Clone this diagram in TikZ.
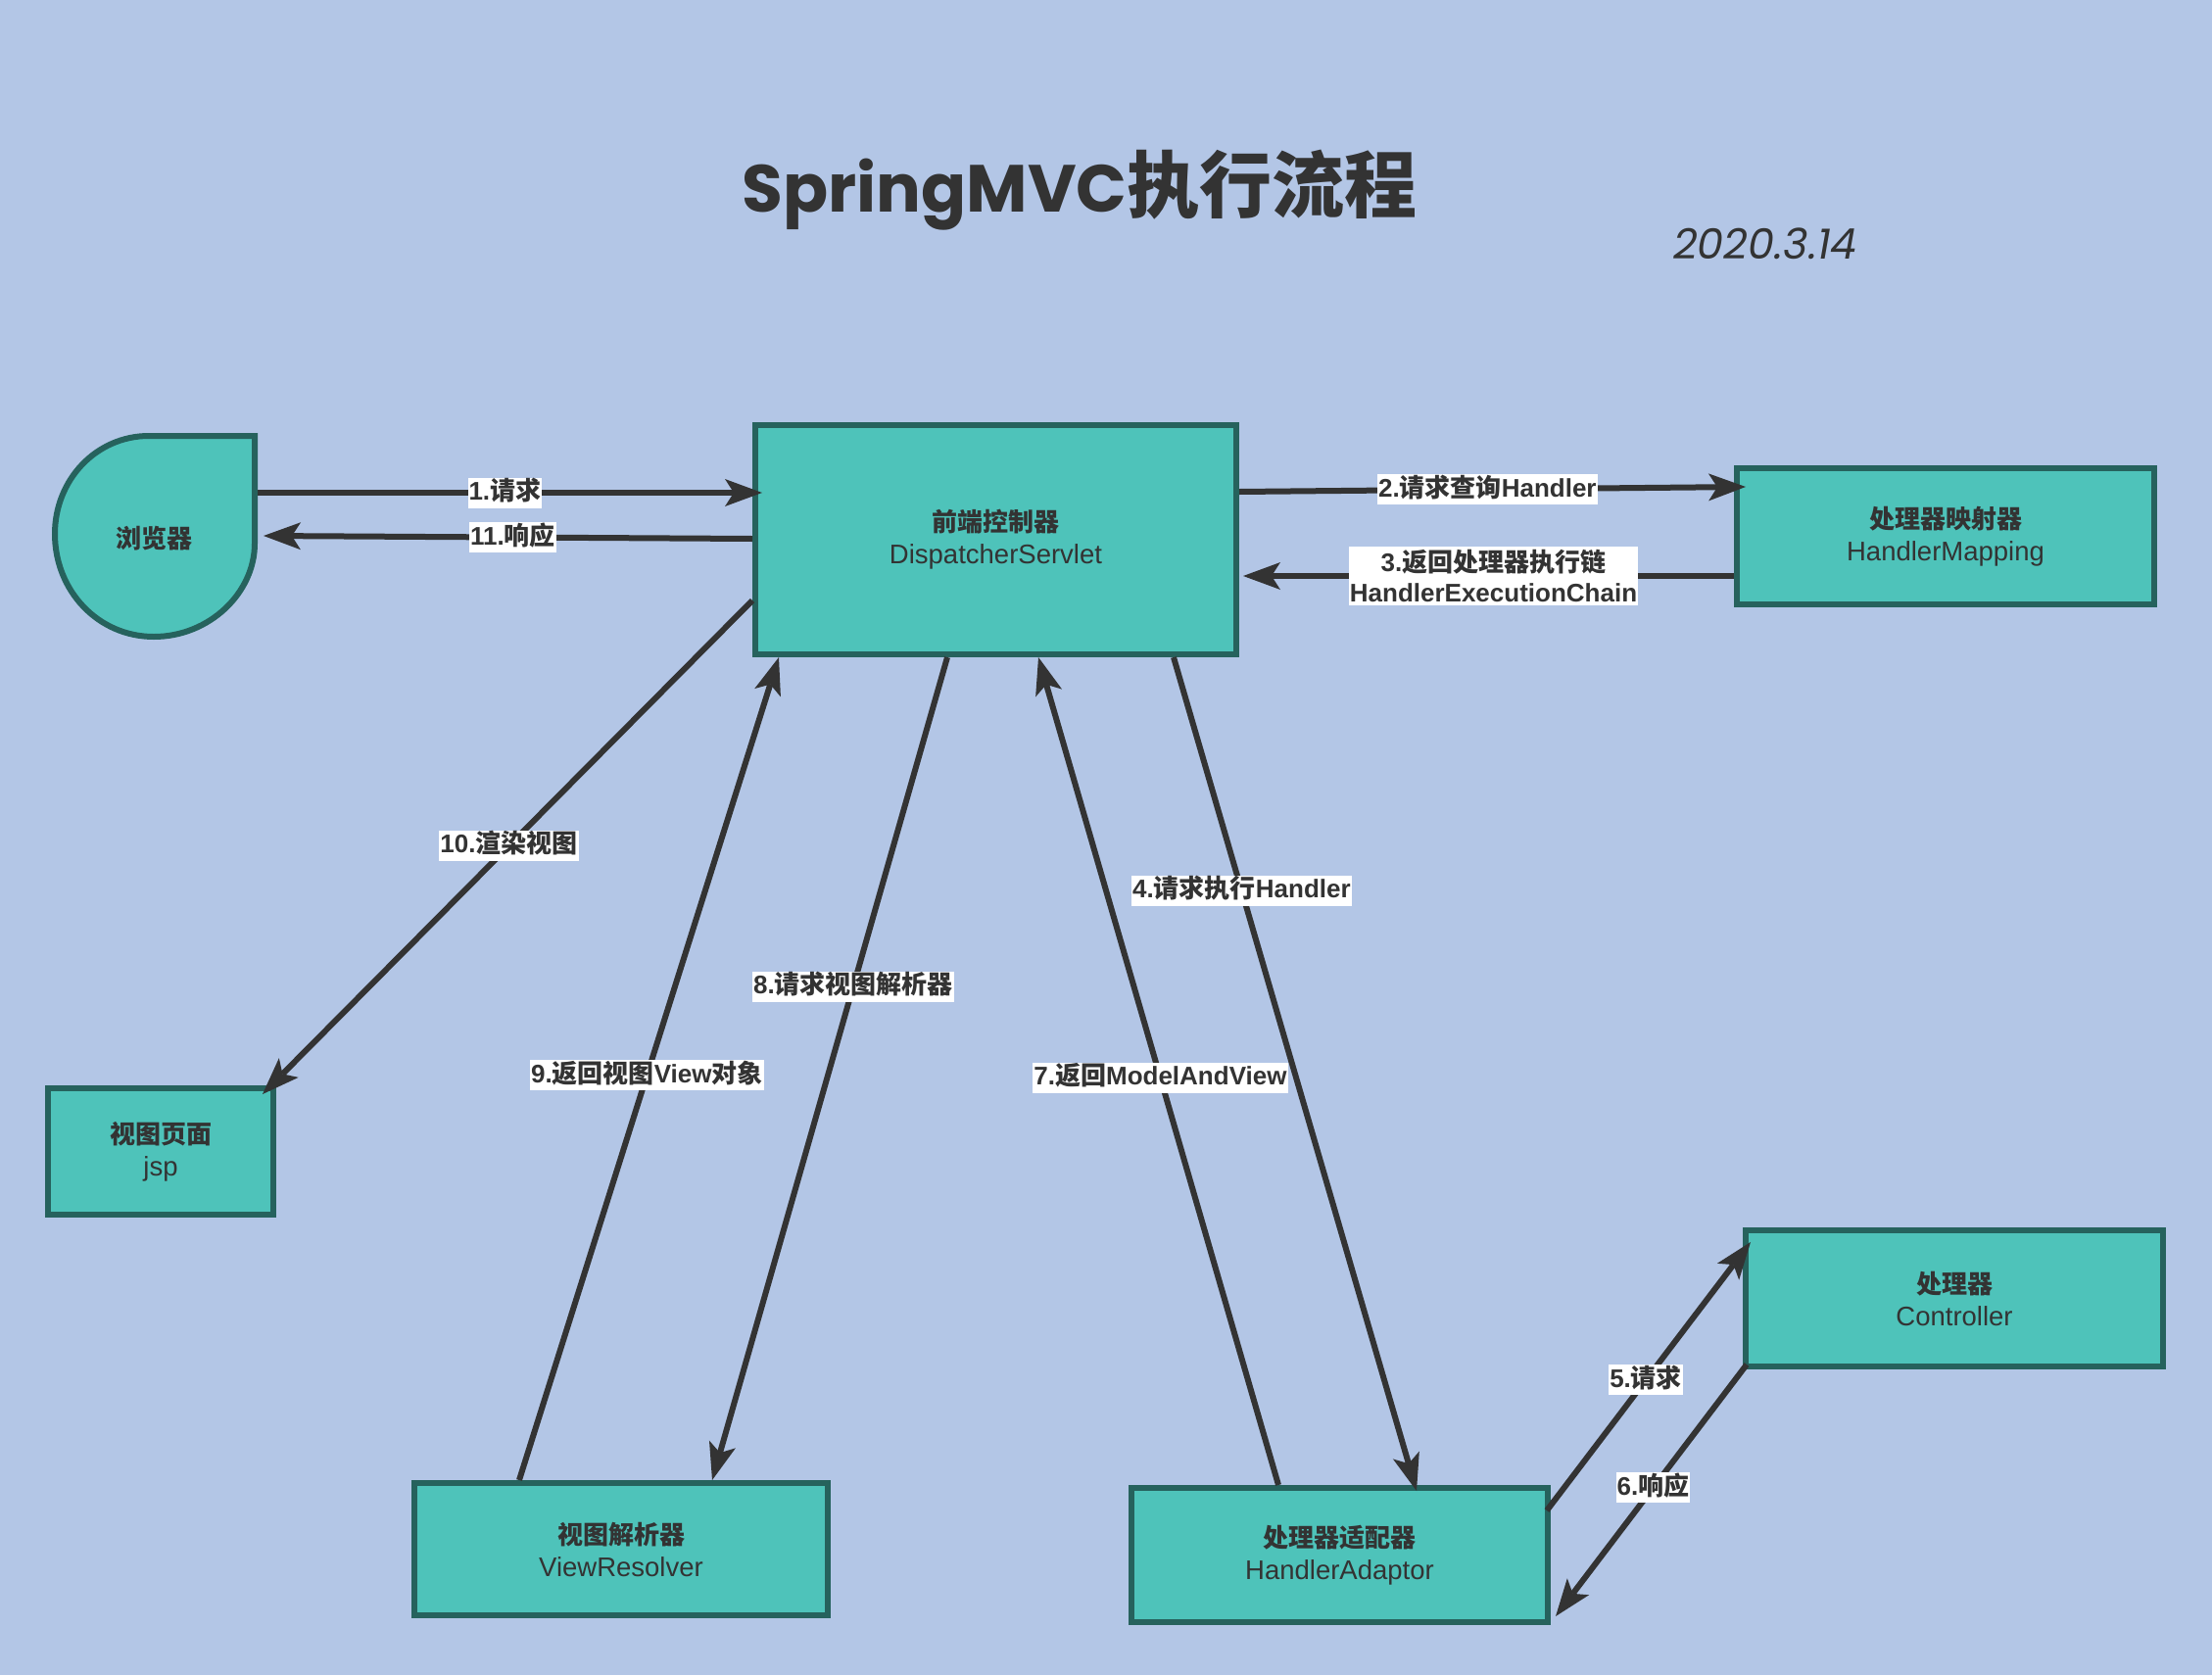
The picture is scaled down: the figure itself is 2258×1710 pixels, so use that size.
\documentclass[tikz,border=0pt]{standalone}
\usepackage{fontspec}
\setmainfont{Liberation Sans}
\newfontfamily\cjk{Noto Sans CJK SC}
\newfontfamily\titlefont{Poppins}
\newcommand\zh[1]{{\cjk #1}}
\usetikzlibrary{arrows.meta,calc}
\definecolor{bgcol}{HTML}{B3C6E6}
\definecolor{boxfill}{HTML}{4EC3BA}
\definecolor{bordercol}{HTML}{26625D}
\definecolor{arrcol}{HTML}{333333}
\definecolor{txt}{HTML}{333333}
\newcommand\boxtext[2]{{\cjk\bfseries\fontsize{26}{33}\selectfont #1}\\{\fontsize{27.5}{33}\selectfont #2}}
\tikzset{
  box/.style={draw=bordercol, fill=boxfill, line width=6pt, inner sep=0pt, align=center, text=txt, font=\fontsize{26}{33}\selectfont},
  arr/.style={draw=arrcol, line width=6pt, -{Stealth[length=38pt,width=28pt,inset=9pt,line width=0pt]}},
  lbl/.style={fill=white, text=txt, font=\bfseries\fontsize{26}{31}\selectfont, inner xsep=1pt, inner ysep=2pt, align=center, text height=21pt, text depth=6pt},
  lbltwo/.style={fill=white, text=txt, font=\bfseries\fontsize{26}{31}\selectfont, inner xsep=1pt, inner ysep=3pt, align=center},
}
\begin{document}
\begin{tikzpicture}[x=1pt,y=-1pt]
\fill[bgcol] (0,0) rectangle (2258,1710);
\useasboundingbox (0,0) rectangle (2258,1710);

% title and date
\node[anchor=base, text=txt, inner sep=0pt] (title) at (1102,216)
  {{\titlefont\bfseries\fontsize{68}{80}\selectfont SpringMVC}{\cjk\bfseries\fontsize{74}{88}\selectfont 执行流程}};
\node[anchor=base, text=txt, inner sep=0pt] (date) at (1802,264)
  {\titlefont\itshape\fontsize{43}{50}\selectfont 2020.3.14};

% browser
\node[minimum width=210, minimum height=211, inner sep=0pt, outer sep=0pt] (browser) at (158,547.5) {};
\draw[draw=bordercol, fill=boxfill, line width=6pt]
  (152,445) -- (260,445) -- (260,555)
  .. controls (260,605) and (214,650) .. (157,650)
  .. controls (100,650) and (56,603) .. (56,545)
  .. controls (56,490) and (98,445) .. (152,445) -- cycle;
\node[text=txt, font=\cjk\bfseries\fontsize{26}{33}\selectfont] (browsertext) at (157,550) {浏览器};

% boxes
\node[box, minimum width=491, minimum height=234] (disp) at (1016.5,551) {\boxtext{前端控制器}{DispatcherServlet}};
\node[box, minimum width=426, minimum height=139] (hmap) at (1986,547.5) {\boxtext{处理器映射器}{HandlerMapping}};
\node[box, minimum width=230, minimum height=129] (jsp) at (164,1175.5) {\boxtext{视图页面}{jsp}};
\node[box, minimum width=422, minimum height=135] (vres) at (634,1581.5) {\boxtext{视图解析器}{ViewResolver}};
\node[box, minimum width=425, minimum height=137] (hadp) at (1367.5,1587.5) {\boxtext{处理器适配器}{HandlerAdaptor}};
\node[box, minimum width=426, minimum height=139] (ctrl) at (1995,1325.5) {\boxtext{处理器}{Controller}};

% arrows
\draw[arr] ($(browser.north east)+(0,61)$) -- node[lbl,pos=.49] (l1) {1.\zh{请求}} ($(disp.north west)+(10,72)$);
\draw[arr] ($(disp.north west)+(0,119)$) -- node[lbl,pos=.49] (l11) {11.\zh{响应}} ($(browser.north east)+(6,105)$);
\draw[arr] ($(disp.north east)+(0,71)$) -- node[lbl,pos=.49] (l2) {2.\zh{请求查询}Handler} ($(hmap.north west)+(12,22)$);
\draw[arr] ($(hmap.north west)+(0,113)$) -- node[lbltwo,pos=.49] (l3) {3.\zh{返回处理器执行链}\\HandlerExecutionChain} ($(disp.north east)+(4,157)$);
\draw[arr] ($(disp.north west)+(0,182)$) -- node[lbl,pos=.497] (l10) {10.\zh{渲染视图}} ($(jsp.north east)+(-14,9)$);
\draw[arr] ($(vres.north west)+(110,0)$) -- node[lbl,pos=.492] (l9) {9.\zh{返回视图}View\zh{对象}} ($(disp.south west)+(27,0)$);
\draw[arr] ($(disp.south west)+(199,0)$) -- node[lbl,pos=.4] (l8) {8.\zh{请求视图解析器}} ($(vres.north west)+(307,0)$);
\draw[arr] ($(hadp.north west)+(153,0)$) -- node[lbl,pos=.492] (l7) {7.\zh{返回}ModelAndView} ($(disp.south west)+(292,0)$);
\draw[arr] ($(disp.south west)+(430,0)$) -- node[lbl,pos=.28] (l4) {4.\zh{请求执行}Handler} ($(hadp.north west)+(294,6)$);
\draw[arr] ($(hadp.north east)+(-4,26)$) -- node[lbl,pos=.486] (l5) {5.\zh{请求}} ($(ctrl.north west)+(8,15)$);
\draw[arr] ($(ctrl.south west)+(4,-5)$) -- node[lbl,pos=.49] (l6) {6.\zh{响应}} ($(hadp.north east)+(5,134)$);
\end{tikzpicture}
\end{document}
